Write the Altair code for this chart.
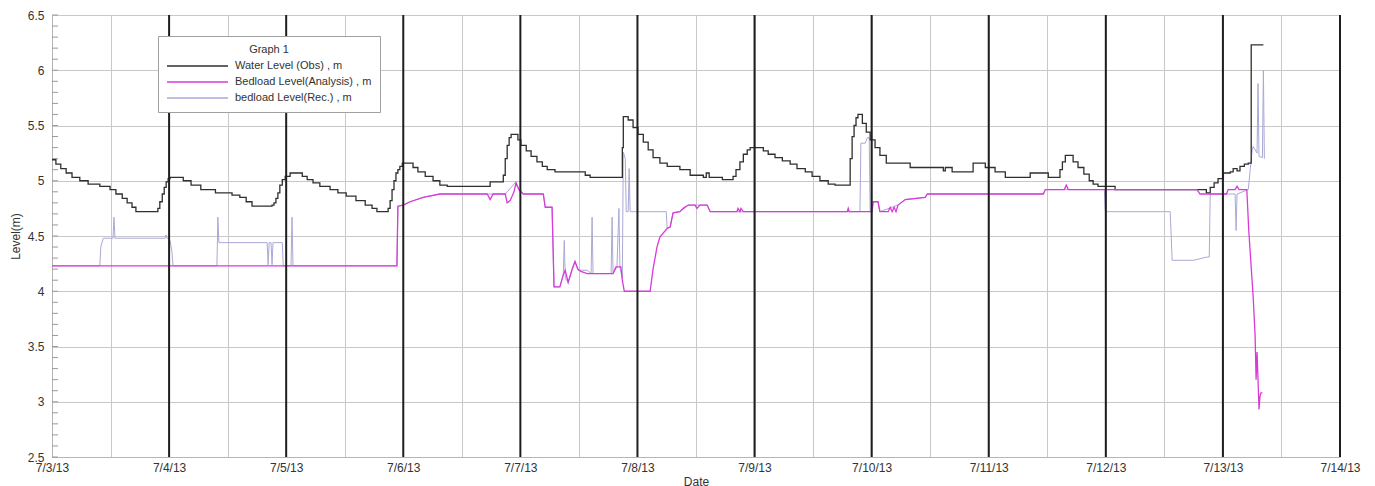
import altair as alt
import pandas as pd

START = pd.Timestamp("2013-07-03 00:00:00")

SERIES = ["Water Level (Obs) , m", "Bedload Level(Analysis) , m", "bedload Level(Rec.) , m"]
COLORS = ["#2f2f2f", "#d93ad9", "#a9a9d6"]

# (hours after 7/3/13 00:00, level in m)
WATER = [
    (0.0, 5.19), (0.8, 5.15), (1.8, 5.11), (2.9, 5.07), (4.1, 5.03), (5.7, 5.00), (7.4, 4.97), (9.8, 4.95),
    (11.9, 4.92), (13.1, 4.88), (14.4, 4.84), (15.4, 4.80), (16.4, 4.76), (17.2, 4.72),
    (21.7, 4.75), (22.1, 4.81), (22.6, 4.88), (23.0, 4.94), (23.4, 4.99), (23.8, 5.02), (24.2, 5.03),
    (26.9, 5.00), (28.5, 4.96), (30.5, 4.92), (33.5, 4.89), (36.9, 4.87), (38.5, 4.85), (39.8, 4.81), (41.0, 4.77),
    (45.1, 4.78), (45.5, 4.80), (45.9, 4.84), (46.3, 4.89), (46.7, 4.96), (47.2, 5.01), (47.8, 5.04), (48.8, 5.07),
    (51.3, 5.04), (52.3, 5.01), (53.5, 4.98), (54.9, 4.95), (57.0, 4.92), (58.6, 4.89), (60.3, 4.86), (62.3, 4.82),
    (64.2, 4.78), (65.6, 4.75), (66.6, 4.72),
    (68.9, 4.75), (69.3, 4.82), (69.7, 4.92), (70.1, 5.00), (70.5, 5.07), (70.9, 5.10), (71.3, 5.13), (71.8, 5.16),
    (74.0, 5.12), (75.0, 5.08), (76.5, 5.04), (78.1, 5.00), (79.5, 4.96), (81.0, 4.95),
    (89.8, 4.99), (92.5, 5.05), (92.9, 5.20), (93.3, 5.32), (93.7, 5.39), (94.1, 5.42),
    (95.5, 5.37), (96.1, 5.32), (97.2, 5.27), (98.2, 5.22), (99.4, 5.17), (100.5, 5.13), (101.5, 5.10),
    (103.1, 5.08), (109.3, 5.05), (110.3, 5.03),
    (116.9, 5.30), (117.1, 5.58), (118.1, 5.55), (119.1, 5.48), (120.1, 5.42), (121.2, 5.35), (122.2, 5.28),
    (123.2, 5.21), (124.6, 5.16), (126.1, 5.13), (128.7, 5.10), (130.8, 5.05), (133.5, 5.03), (134.1, 5.07),
    (134.7, 5.03), (137.4, 5.01),
    (139.6, 5.04), (140.2, 5.10), (141.0, 5.17), (141.7, 5.24), (142.5, 5.28), (143.1, 5.30),
    (145.8, 5.27), (146.8, 5.24), (148.2, 5.21), (149.7, 5.18), (151.3, 5.15), (152.7, 5.11), (154.4, 5.08),
    (155.8, 5.04), (157.4, 5.00), (159.1, 4.97), (160.5, 4.96),
    (163.6, 5.20), (164.0, 5.40), (164.4, 5.50), (164.8, 5.57), (165.2, 5.60),
    (166.1, 5.52), (166.9, 5.44), (167.7, 5.37), (168.7, 5.30), (169.7, 5.23), (171.0, 5.16), (175.9, 5.12),
    (182.7, 5.09), (183.1, 5.12), (184.5, 5.08),
    (188.8, 5.16), (191.3, 5.12), (193.3, 5.08), (195.4, 5.03), (200.5, 5.07), (204.2, 5.03),
    (206.6, 5.10), (207.1, 5.17), (207.7, 5.23), (209.3, 5.17), (210.3, 5.12), (211.5, 5.06), (212.6, 5.00),
    (213.4, 4.97), (214.4, 4.95), (217.9, 4.92),
    (236.6, 4.89), (237.4, 4.94), (238.2, 4.98), (239.0, 5.02), (240.1, 5.07), (241.5, 5.08), (242.1, 5.11),
    (242.9, 5.09), (243.5, 5.13), (244.4, 5.15), (245.2, 5.16), (245.8, 6.23), (248.3, 6.23),
]

BEDLOAD_ANALYSIS = [
    (0.0, 4.23), (70.7, 4.23), (70.9, 4.77), (72.0, 4.78), (73.4, 4.81), (76.1, 4.85), (79.5, 4.88),
    (89.2, 4.88), (89.8, 4.83), (90.4, 4.88), (92.9, 4.88), (93.3, 4.80), (93.9, 4.82), (94.7, 4.90),
    (95.1, 4.98), (95.7, 4.92), (96.6, 4.88), (100.7, 4.88), (101.1, 4.76), (102.5, 4.76), (102.9, 4.04),
    (104.1, 4.04), (104.8, 4.15), (105.2, 4.19), (105.8, 4.08), (106.6, 4.20), (107.2, 4.27), (107.8, 4.20),
    (108.4, 4.18), (109.7, 4.16), (115.0, 4.16), (115.6, 4.22), (116.6, 4.22), (116.9, 4.10), (117.3, 4.00),
    (122.6, 4.00), (123.2, 4.20), (124.0, 4.40), (124.6, 4.49), (126.1, 4.57), (126.7, 4.58), (127.3, 4.71),
    (128.7, 4.72), (129.4, 4.75), (130.4, 4.78), (131.8, 4.78), (132.2, 4.75), (132.8, 4.78), (134.3, 4.78),
    (134.9, 4.72), (140.4, 4.72), (140.6, 4.75), (141.0, 4.72), (141.2, 4.75), (141.7, 4.72),
    (163.0, 4.72), (163.2, 4.75), (163.4, 4.72), (168.1, 4.72), (168.3, 4.81), (169.3, 4.81), (169.7, 4.72),
    (171.4, 4.72), (171.8, 4.76), (172.2, 4.72), (172.6, 4.76), (173.0, 4.72), (173.4, 4.78), (174.9, 4.83),
    (179.0, 4.85), (179.4, 4.88), (203.2, 4.88), (203.6, 4.92), (207.5, 4.92), (207.9, 4.96), (208.3, 4.92),
    (234.7, 4.92), (235.3, 4.88), (240.7, 4.88), (241.1, 4.92), (242.5, 4.92), (242.9, 4.95), (243.3, 4.92),
    (244.9, 4.92), (245.3, 4.55), (246.2, 3.95), (246.6, 3.60), (246.8, 3.20), (247.0, 3.45), (247.2, 3.20),
    (247.4, 2.93), (247.6, 3.05), (247.8, 3.08), (248.1, 3.08),
]

BEDLOAD_REC = [
    (0.0, 4.23), (9.8, 4.23), (10.0, 4.40), (10.5, 4.48), (12.5, 4.48), (12.7, 4.67), (12.9, 4.48),
    (23.2, 4.48), (23.4, 4.51), (23.6, 4.48), (24.2, 4.46), (24.6, 4.35), (24.8, 4.23),
    (33.8, 4.23), (34.0, 4.67), (34.2, 4.44), (44.1, 4.44), (44.3, 4.24), (44.5, 4.44), (44.9, 4.44),
    (45.1, 4.24), (45.3, 4.44), (47.2, 4.44), (47.4, 4.23), (49.0, 4.23), (49.2, 4.67), (49.4, 4.23),
    (70.7, 4.23), (70.9, 4.77), (72.0, 4.78), (73.4, 4.81), (76.1, 4.85), (79.5, 4.88), (92.9, 4.88),
    (95.1, 4.99), (95.7, 4.92), (96.6, 4.88), (100.7, 4.88), (101.1, 4.76), (102.5, 4.76), (102.9, 4.04),
    (104.1, 4.04), (104.8, 4.15), (105.0, 4.46), (105.2, 4.12), (105.8, 4.08), (107.2, 4.27), (107.8, 4.19),
    (109.7, 4.19), (110.5, 4.16), (110.7, 4.67), (110.9, 4.16), (114.6, 4.16), (114.8, 4.67), (115.0, 4.16),
    (115.8, 4.22), (116.2, 4.75), (116.4, 4.22), (116.9, 4.12), (117.1, 5.26), (117.5, 5.20), (117.7, 4.72),
    (118.1, 4.72), (118.3, 5.11), (118.5, 4.72), (125.9, 4.72), (126.1, 4.57), (126.7, 4.58), (127.3, 4.71),
    (128.7, 4.72), (130.4, 4.78), (134.3, 4.78), (134.9, 4.72), (165.6, 4.72), (165.8, 5.34), (166.7, 5.34),
    (167.1, 5.39), (167.5, 5.39), (167.7, 4.72), (168.1, 4.72), (168.3, 4.81), (169.3, 4.81), (169.7, 4.72),
    (173.4, 4.78), (174.9, 4.83), (179.0, 4.85), (179.4, 4.88), (203.2, 4.88), (203.6, 4.92), (215.7, 4.92),
    (215.9, 4.72), (229.2, 4.72), (229.6, 4.28), (233.9, 4.28), (236.8, 4.31), (237.2, 4.31), (237.4, 4.88),
    (242.5, 4.88), (242.7, 4.55), (242.9, 4.88), (245.2, 4.92), (245.6, 5.10), (246.0, 5.28), (246.2, 5.31),
    (247.0, 5.25), (247.2, 5.88), (247.4, 5.22), (248.1, 5.21), (248.3, 6.00), (248.5, 5.20),
]

DAY_LINES = [f"2013-07-{d:02d} 00:00:00" for d in range(4, 15)]
Y_MAJOR = [2.5, 3.0, 3.5, 4.0, 4.5, 5.0, 5.5, 6.0, 6.5]
Y_MINOR = [round(2.5 + 0.1 * i, 1) for i in range(41)]
X_TICKS = [alt.DateTime(year=2013, month=7, date=d, hours=h) for d in range(3, 15) for h in (0, 12)][:-1]

FONT = "Liberation Sans"


def frame(pairs, name):
    return pd.DataFrame({
        "time": START + pd.to_timedelta([p[0] for p in pairs], unit="h"),
        "level": [p[1] for p in pairs],
        "series": name,
    })


water_df = frame(WATER, SERIES[0])
bed_df = frame(BEDLOAD_ANALYSIS, SERIES[1])
rec_df = frame(BEDLOAD_REC, SERIES[2])
days_df = pd.DataFrame({"time": pd.to_datetime(DAY_LINES)})
minor_df = pd.DataFrame({"level": Y_MINOR})

x_enc = alt.X(
    "time:T",
    scale=alt.Scale(domain=[alt.DateTime(year=2013, month=7, date=3),
                            alt.DateTime(year=2013, month=7, date=14)], nice=False),
    axis=alt.Axis(
        values=X_TICKS,
        labelExpr="hours(datum.value) == 0 ? timeFormat(datum.value, '%-m/%-d/%y') : ''",
        title="Date", grid=True, gridColor="#c8c8c8", gridWidth=1,
        ticks=False, tickSize=0, labelPadding=5, labelFlush=False, labelOverlap=False,
        domainColor="#b5b5b5", titlePadding=3, labelFontSize=12, titleFontSize=12,
        labelColor="#333333", titleColor="#333333", titleFontWeight="normal",
        labelFont=FONT, titleFont=FONT,
    ),
)

y_enc = alt.Y(
    "level:Q",
    scale=alt.Scale(domain=[2.5, 6.5], nice=False, zero=False),
    axis=alt.Axis(
        values=Y_MAJOR, format="~g", title="Level(m)", grid=True, gridColor="#c8c8c8", gridWidth=1,
        ticks=False, tickSize=0, labelPadding=8, labelFlush=False, labelOverlap=False,
        domainColor="#b5b5b5", titlePadding=5, labelFontSize=12, titleFontSize=12,
        labelColor="#333333", titleColor="#333333", titleFontWeight="normal",
        labelFont=FONT, titleFont=FONT,
    ),
)

color_enc = alt.Color(
    "series:N",
    scale=alt.Scale(domain=SERIES, range=COLORS),
    legend=alt.Legend(
        title="Graph 1", orient="none", legendX=106, legendY=21, direction="vertical",
        titleAnchor="middle", titleFontSize=11, titleFontWeight="normal", titleColor="#333333",
        titleFont=FONT, titlePadding=5,
        labelFontSize=11, labelColor="#333333", labelFont=FONT, labelOffset=6, labelLimit=400,
        symbolType="stroke", symbolSize=3721, symbolStrokeWidth=1.5, clipHeight=12, rowPadding=4,
        padding=8, strokeColor="#a0a0a0", fillColor="white", cornerRadius=0,
    ),
)

minor_ticks = alt.Chart(minor_df).mark_rule(color="#9a9a9a", strokeWidth=1).encode(
    y=y_enc, x=alt.value(0), x2=alt.value(6)
)
rec_line = alt.Chart(rec_df).mark_line(strokeWidth=1, interpolate="linear").encode(
    x=x_enc, y=y_enc, color=color_enc
)
water_line = alt.Chart(water_df).mark_line(strokeWidth=1.3, interpolate="step-after").encode(
    x=x_enc, y=y_enc, color=color_enc
)
bed_line = alt.Chart(bed_df).mark_line(strokeWidth=1.3, interpolate="linear").encode(
    x=x_enc, y=y_enc, color=color_enc
)
day_rules = alt.Chart(days_df).mark_rule(color="#1e1e1e", strokeWidth=2).encode(x=x_enc)

chart = alt.layer(minor_ticks, rec_line, water_line, bed_line, day_rules).properties(
    width=1288,
    height=442,
    padding={"left": 44, "top": 7, "right": 27, "bottom": 29},
    autosize=alt.AutoSizeParams(type="none"),
).configure_view(stroke=None).configure(font=FONT)

chart.save("out.html", embed_options={"renderer": "svg", "actions": False})
